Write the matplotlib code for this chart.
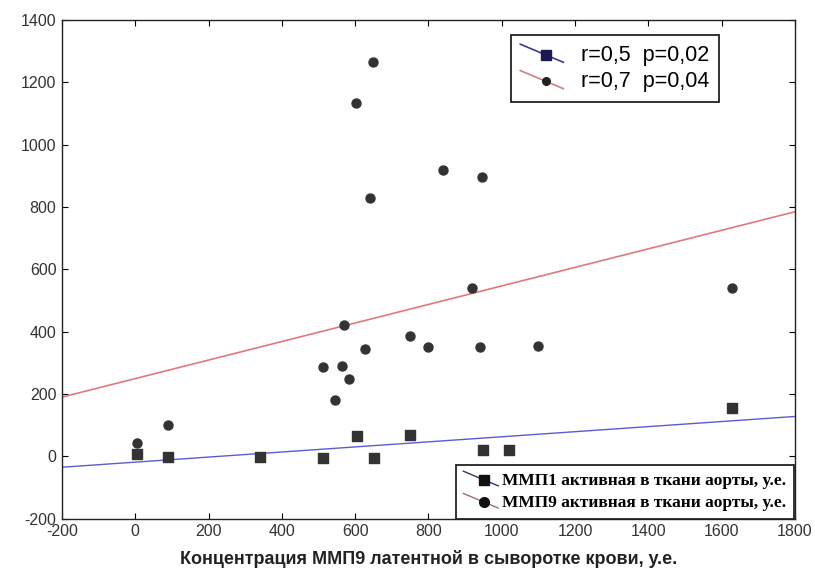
import matplotlib
matplotlib.use("Agg")
import matplotlib.pyplot as plt
from matplotlib.lines import Line2D
from matplotlib.legend_handler import HandlerLine2D

plt.rcParams["axes.unicode_minus"] = False

# MMP9 latent in serum (x) vs MMP1 active in aorta tissue (squares)
mmp1_x = [5, 90, 340, 513, 605, 651, 750, 950, 1020, 1628]
mmp1_y = [8, -3, -3, -5, 65, -5, 70, 20, 20, 155]

# MMP9 latent in serum (x) vs MMP9 active in aorta tissue (circles)
mmp9_x = [5, 90, 513, 545, 564, 570, 583, 603, 628, 640, 648, 750, 800, 840, 918, 940, 945, 1020, 1100, 1628]
mmp9_y = [42, 100, 288, 180, 290, 420, 248, 1135, 345, 830, 1265, 385, 350, 920, 540, 350, 895, 20, 355, 540]

# regression lines (endpoints)
line_x = [-200, 1800]
blue_line_y = [-35, 128]
red_line_y = [190, 785]

legend_top = ["r=0,5  p=0,02", "r=0,7  p=0,04"]
legend_bottom = ["ММП1 активная в ткани аорты, у.е.", "ММП9 активная в ткани аорты, у.е."]
xlabel = "Концентрация ММП9 латентной в сыворотке крови, у.е."

xticks = list(range(-200, 1801, 200))
yticks = list(range(-200, 1401, 200))


class DiagHandler(HandlerLine2D):
    def create_artists(self, legend, orig_handle, xdescent, ydescent, width, height, fontsize, trans):
        x0, x1 = -xdescent, -xdescent + width
        y0, y1 = -ydescent + height * 1.1, -ydescent - height * 0.1
        ln = Line2D([x0, x1], [y0, y1], color=orig_handle.get_color(), lw=orig_handle.get_linewidth())
        ln.set_transform(trans)
        mk = Line2D([(x0 + x1) / 2 + width * 0.1], [(y0 + y1) / 2 - height * 0.1],
                    marker=orig_handle.get_marker(), markersize=orig_handle.get_markersize(),
                    color=orig_handle.get_markerfacecolor(), linestyle="none")
        mk.set_transform(trans)
        return [ln, mk]


fig = plt.figure(figsize=(8.15, 5.75), dpi=100)
ax = fig.add_axes([0.076, 0.098, 0.8995, 0.867])

ax.plot(line_x, blue_line_y, color="#5b5bd6", lw=1.0, zorder=2)
ax.plot(line_x, red_line_y, color="#e07a7a", lw=1.2, zorder=2)
ax.scatter(mmp1_x, mmp1_y, marker="s", s=55, color="#333333", zorder=3)
ax.scatter(mmp9_x, mmp9_y, marker="o", s=42, color="#333333", zorder=3)

ax.set_xlim(-200, 1800)
ax.set_ylim(-200, 1400)
ax.set_xticks(xticks)
ax.set_yticks(yticks)
ax.tick_params(direction="in", top=True, right=True, length=4, labelsize=11.5,
               labelcolor="#333333", pad=4)
for lab in ax.get_xticklabels() + ax.get_yticklabels():
    lab.set_family("Liberation Sans")
for sp in ax.spines.values():
    sp.set_linewidth(1.0)
    sp.set_color("#222222")

ax.set_xlabel(xlabel, fontsize=13, family="Liberation Sans", fontweight="bold",
              color="#222222", labelpad=8)

h1 = Line2D([], [], color="#3a3a8a", lw=1.2, marker="s", markersize=6.5, markerfacecolor="#1a1a50")
h2 = Line2D([], [], color="#d08080", lw=1.2, marker="o", markersize=5.5, markerfacecolor="#222222")
leg1 = ax.legend([h1, h2], legend_top, loc="upper left", bbox_to_anchor=(0.612, 0.97),
                 handler_map={Line2D: DiagHandler()}, prop={"family": "Liberation Sans", "size": 15.5},
                 frameon=True, fancybox=False, edgecolor="#222222", framealpha=1,
                 handlelength=2.0, handletextpad=0.8, borderpad=0.45, labelspacing=0.25,
                 borderaxespad=0)
leg1.get_frame().set_linewidth(1.3)
ax.add_artist(leg1)

h3 = Line2D([], [], color="#333366", lw=1.0, marker="s", markersize=7, markerfacecolor="#111111")
h4 = Line2D([], [], color="#9a7070", lw=1.0, marker="o", markersize=7, markerfacecolor="#111111")
leg2 = ax.legend([h3, h4], legend_bottom, loc="lower right", bbox_to_anchor=(0.998, 0.0),
                 handler_map={Line2D: DiagHandler()},
                 prop={"family": "Liberation Serif", "size": 12.5, "weight": "bold"},
                 frameon=True, fancybox=False, edgecolor="#222222", framealpha=1,
                 handlelength=2.0, handletextpad=0.2, borderpad=0.45, labelspacing=0.35,
                 borderaxespad=0)
leg2.get_frame().set_linewidth(1.3)

fig.savefig("out.png", dpi=100, facecolor="white")
